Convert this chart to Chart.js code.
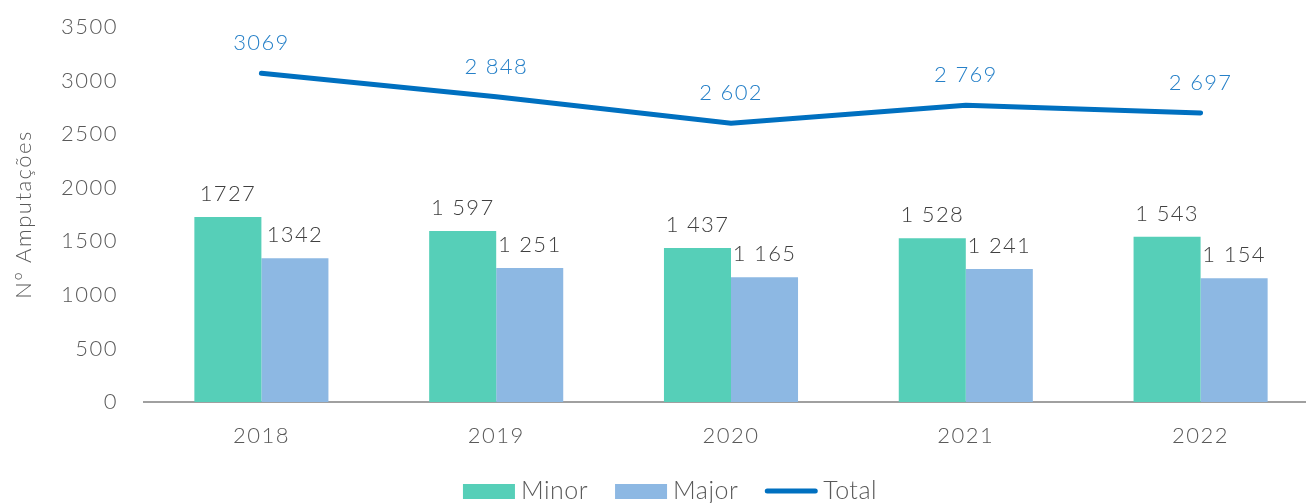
<!DOCTYPE html>
<html>
<head>
<meta charset="utf-8">
<script src="https://cdn.jsdelivr.net/npm/chart.js@4.4.1/dist/chart.umd.min.js"></script>
<style>
html,body{margin:0;padding:0;background:#fff;overflow:hidden;width:1306px;height:503px;}
#wrap{width:1318px;height:503px;}
canvas{display:block;}
</style>
</head>
<body>
<div id="wrap"><canvas id="c" width="1318" height="503" style="width:1318px;height:503px"></canvas></div>
<script>
const categories = ['2018', '2019', '2020', '2021', '2022'];
const minorValues = [1727, 1597, 1437, 1528, 1543];
const majorValues = [1342, 1251, 1165, 1241, 1154];
const totalValues = [3069, 2848, 2602, 2769, 2697];
const minorLabels = ['1727', '1 597', '1 437', '1 528', '1 543'];
const majorLabels = ['1342', '1 251', '1 165', '1 241', '1 154'];
const totalLabels = ['3069', '2 848', '2 602', '2 769', '2 697'];
const yTicks = [0, 500, 1000, 1500, 2000, 2500, 3000, 3500];

const FONT = 'Lato, "Open Sans", sans-serif';
const C_MINOR = '#56CFB8';
const C_MAJOR = '#8DB8E3';
const C_TOTAL = '#0070C0';

const spacing = {
  id: 'spacing',
  beforeDraw(chart) { chart.ctx.letterSpacing = '1.5px'; }
};

const valueLabels = {
  id: 'valueLabels',
  afterDatasetsDraw(chart) {
    const ctx = chart.ctx;
    ctx.save();
    ctx.letterSpacing = '1.3px';
    ctx.textAlign = 'center';
    ctx.textBaseline = 'alphabetic';
    chart.data.datasets.forEach((ds, i) => {
      const meta = chart.getDatasetMeta(i);
      meta.data.forEach((el, j) => {
        const txt = ds.valueText[j];
        ctx.font = '300 22px ' + FONT;
        if (ds.type === 'line') {
          ctx.fillStyle = '#2680C8';
          ctx.fillText(txt, el.x, el.y - 23);
        } else {
          ctx.fillStyle = '#404040';
          ctx.fillText(txt, el.x, el.y - 16);
        }
      });
    });
    ctx.restore();
  }
};

const customLegend = {
  id: 'customLegend',
  afterDraw(chart) {
    const ctx = chart.ctx;
    ctx.save();
    ctx.letterSpacing = '0.5px';
    ctx.font = '300 25px ' + FONT;
    ctx.textBaseline = 'alphabetic';
    ctx.textAlign = 'left';
    const items = chart.data.datasets.map(ds => ({text: ds.label, color: ds.type === 'line' ? ds.borderColor : ds.backgroundColor, line: ds.type === 'line'}));
    const boxW = 52, gap = 6, itemGap = 27;
    let total = 0;
    items.forEach((it, k) => { it.w = ctx.measureText(it.text).width; total += boxW + gap + it.w + (k < items.length - 1 ? itemGap : 0); });
    let x = 670 - total / 2;
    items.forEach(it => {
      if (it.line) {
        ctx.strokeStyle = it.color;
        ctx.lineWidth = 5;
        ctx.lineCap = 'round';
        ctx.beginPath();
        ctx.moveTo(x + 2, 491);
        ctx.lineTo(x + boxW - 2, 491);
        ctx.stroke();
      } else {
        ctx.fillStyle = it.color;
        ctx.fillRect(x, 484, boxW, 15);
      }
      ctx.fillStyle = '#595959';
      ctx.fillText(it.text, x + boxW + gap, 499);
      x += boxW + gap + it.w + itemGap;
    });
    ctx.restore();
  }
};

new Chart(document.getElementById('c'), {
  data: {
    labels: categories,
    datasets: [
      {type: 'bar', label: 'Minor', data: minorValues, valueText: minorLabels, backgroundColor: C_MINOR, order: 1},
      {type: 'bar', label: 'Major', data: majorValues, valueText: majorLabels, backgroundColor: C_MAJOR, order: 2},
      {type: 'line', label: 'Total', data: totalValues, valueText: totalLabels, borderColor: C_TOTAL, backgroundColor: C_TOTAL, borderWidth: 5, pointRadius: 0, tension: 0, order: 0, borderCapStyle: 'round'}
    ]
  },
  options: {
    responsive: false,
    animation: false,
    devicePixelRatio: 1,
    layout: {padding: {top: 27, bottom: 29, left: 0, right: 0}},
    datasets: {bar: {categoryPercentage: 0.571, barPercentage: 1}},
    plugins: {legend: {display: false}, tooltip: {enabled: false}},
    scales: {
      x: {
        grid: {display: false, drawTicks: false},
        border: {display: true, color: '#a0a0a0', width: 2},
        ticks: {color: '#595959', font: {family: FONT, size: 22, weight: 300}, padding: 21},
        afterFit(s) { s.height = 72; }
      },
      y: {
        min: 0, max: 3500,
        afterBuildTicks(s) { s.ticks = yTicks.map(v => ({value: v})); },
        grid: {display: false, drawTicks: false},
        border: {display: false},
        ticks: {color: '#595959', font: {family: FONT, size: 22, weight: 300}, padding: 26, callback: v => String(v)},
        title: {display: true, text: 'Nº Amputações', color: '#595959', font: {family: FONT, size: 22, weight: 300}, padding: {top: 11, bottom: 0}},
        afterFit(s) { s.width = 144; s.paddingTop = 12; s.paddingBottom = 12; }
      }
    }
  },
  plugins: [spacing, valueLabels, customLegend]
});
</script>
</body>
</html>
